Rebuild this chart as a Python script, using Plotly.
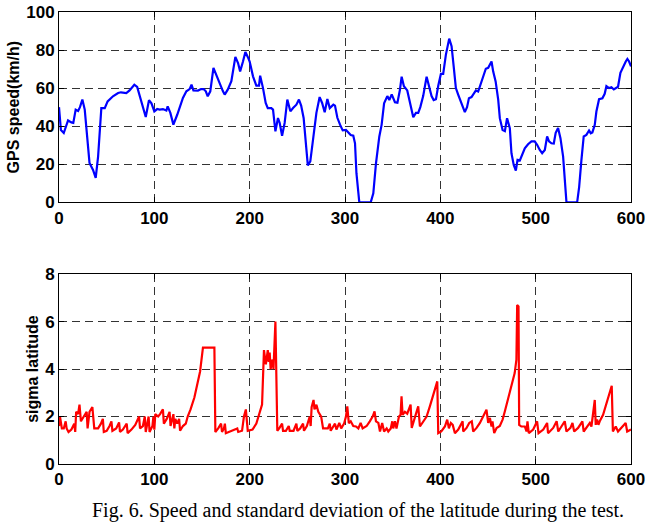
import plotly.graph_objects as go
from plotly.subplots import make_subplots

# GPS speed (km/h)
speed_t = [0, 2, 5, 8, 9.5, 13, 15, 17.5, 20, 22, 24.5, 27, 29, 32, 35.7, 38.5, 41, 44.4, 48, 51, 56.6, 62, 65, 70.6, 74, 79, 82, 85, 88, 91, 94.4, 97, 100, 103, 105.6, 109, 112.6, 114, 116.8, 120, 124, 127, 130, 133.6, 137, 139, 141, 145.8, 149, 151.7, 154, 156, 158.7, 162, 165, 168.5, 172, 173.8, 177, 180.8, 182.5, 185, 187.8, 190, 193, 195.5, 198, 200, 203.5, 207, 209.8, 211, 214, 216.8, 219, 222.7, 224.5, 227, 229.7, 231.5, 234, 236.7, 239.5, 242.7, 245.5, 249, 251.7, 254, 256.6, 258.7, 261, 263.6, 266.4, 270, 273.4, 276, 278.7, 281.5, 284, 287.8, 289.5, 292, 294.8, 297.6, 301, 303.5, 306, 308.7, 310.5, 312, 315, 327, 329.7, 332.5, 336, 338.4, 341, 344.4, 346.5, 349, 352.4, 355, 357.6, 359.4, 361.8, 365.3, 368, 371.6, 374.4, 376.8, 379, 382, 385.6, 388.4, 390.8, 393, 395.4, 397.8, 400.6, 403, 405.8, 409.3, 411.8, 414, 416.3, 418.8, 421, 424, 425.7, 428, 430, 432.7, 435, 437.3, 439.7, 442, 445, 447.7, 450.2, 453.7, 455.4, 458, 460.7, 462.4, 465.3, 467.7, 470, 472.9, 474.6, 477, 479.2, 481, 483.4, 486, 488.6, 492, 495.6, 499, 501.5, 504.3, 506.8, 509.6, 512, 514, 516.5, 519, 521, 523.5, 526, 528.8, 530.5, 532.3, 543.5, 545.6, 548, 550.4, 553.2, 556, 557.8, 559.5, 562, 563.7, 566.5, 570, 572.4, 574.2, 577, 579.5, 582, 584.7, 586.4, 588.9, 591.7, 594.5, 596.2, 598, 600]
speed_v = [50, 38, 36.4, 41.7, 43, 42, 41.7, 48.7, 48, 50, 54, 48.7, 36.4, 20.7, 17, 12.8, 24, 49.5, 49.5, 53, 55.7, 57.4, 57.8, 57.4, 58.8, 61.8, 60.6, 55.7, 50.4, 44.8, 53.6, 52, 47.8, 49, 48.7, 49, 48.2, 50.4, 47, 40.8, 46, 50.8, 54.8, 58.3, 59.5, 61.8, 58.8, 58.7, 59.5, 59.5, 58.3, 55.7, 58.3, 70.6, 67, 61.8, 58.3, 56.6, 59.2, 63.6, 68.8, 76.4, 73.2, 68.8, 74, 79, 76.4, 74, 66.2, 61.3, 61.3, 66.5, 60, 52.2, 49.5, 49.5, 48.7, 37.3, 44.3, 41.7, 35, 41.7, 54, 47.8, 49.5, 51.3, 54, 50.8, 44.3, 33, 19.4, 21.5, 33, 47, 55.3, 52.2, 47.3, 54.3, 49.5, 51.3, 50.8, 44.4, 40.8, 37.8, 38, 36.7, 35.4, 35, 31, 15.3, 0, 0, 4.7, 20.5, 34.6, 40.7, 52, 55.8, 53.7, 56.7, 52.6, 52.3, 59, 66, 61, 58.8, 53, 44.7, 47, 47, 50, 55.8, 66, 61.2, 55.8, 53.7, 54.2, 61.2, 67.5, 67.5, 77.5, 86, 82, 71.4, 60, 56.5, 53.5, 49.5, 47.4, 50, 54.7, 55.3, 56.8, 58.8, 58.2, 61.8, 67, 70.2, 70.7, 74, 68.8, 63.5, 53.9, 44.2, 38, 37.4, 44.2, 39, 25.8, 19.6, 16.7, 22.3, 22, 25, 28.4, 30.5, 32, 32, 30.2, 27.5, 25.8, 27.5, 34.6, 32, 31, 30.9, 36.5, 39, 33.7, 24, 10, 0, 0, 8, 22.3, 34.6, 35.4, 37.7, 36.3, 36.7, 40.7, 47.7, 54.2, 54.7, 57, 61, 60, 60.5, 59.3, 60, 60.7, 68, 71.4, 74, 75.3, 74, 71.4]

# sigma latitude
sig_t = [0, 1, 3, 5, 7, 8, 10, 13, 16, 17, 18, 20, 21.5, 23, 26, 29, 30, 32, 35, 37, 41, 44, 46, 47, 50, 53, 55, 56, 60, 63, 64, 67, 71, 72, 76, 80, 84, 85, 88, 90, 91, 93, 94, 95, 98, 99, 100, 101, 104, 106, 109, 110, 113, 116, 117, 120, 121, 122, 124, 126, 127, 130, 133, 135, 138, 142, 145, 148, 151, 163, 164, 167, 170, 171, 173, 174, 175, 178, 183, 187, 188, 192, 194, 196, 198, 203, 207, 211, 213, 215, 217, 219, 220, 221, 222, 224, 225, 227, 229, 231, 234, 235, 238, 241, 242, 246, 249, 250, 253, 256, 257, 260, 263, 264, 265, 267, 268, 270, 272, 275, 277, 282, 284, 285, 288, 289.5, 291, 294, 296, 299, 301, 302.4, 304, 306, 308.7, 311.5, 314, 316.4, 318.5, 322.7, 326, 329, 331, 332.5, 335, 336.7, 339, 341, 343.7, 345.4, 348, 349.6, 350.6, 352.4, 354, 356.6, 358.3, 359.3, 360.4, 362.8, 365.3, 368.8, 370, 373.3, 376.8, 378.6, 382, 385.6, 389, 392.6, 395.4, 396.8, 397.8, 401, 404.8, 407.2, 409, 411, 413, 415.3, 418.8, 423.4, 424, 427.5, 430.3, 433, 434.5, 438, 441.5, 445, 448.4, 450.2, 452, 453.7, 454.7, 456.5, 459, 462.4, 465.3, 467.7, 471, 474.6, 478, 479.8, 480.6, 482, 482.7, 485, 488.6, 490.4, 491.4, 492.8, 497.4, 501.5, 503, 508, 512, 513, 518.4, 522, 523.7, 527, 530.5, 532.3, 536.5, 538.6, 540.4, 544.5, 549, 550.4, 554, 556.8, 558.5, 561, 562, 563, 564.4, 565.8, 567.2, 570.7, 574.2, 577.7, 579.8, 581, 584, 586.4, 590, 594.4, 596, 600]
sig_v = [1.6, 2.0, 1.5, 1.5, 1.8, 1.5, 1.35, 1.45, 1.7, 1.35, 2.2, 2.1, 2.5, 1.8, 2.0, 2.2, 1.5, 2.2, 2.4, 1.5, 1.5, 1.7, 1.9, 1.35, 1.4, 1.6, 1.8, 1.4, 1.5, 1.75, 1.35, 1.45, 1.7, 1.3, 1.45, 1.65, 2.0, 1.5, 1.6, 2.0, 1.35, 1.7, 2.0, 1.35, 1.6, 2.0, 1.45, 2.1, 2.0, 2.1, 2.3, 1.7, 1.9, 2.2, 1.6, 2.1, 1.5, 1.9, 1.7, 1.9, 1.4, 1.6, 1.7, 2.0, 2.3, 2.8, 3.3, 3.9, 4.9, 4.9, 1.35, 1.5, 1.7, 1.35, 1.5, 1.7, 1.3, 1.35, 1.4, 1.5, 1.35, 1.4, 2.0, 2.3, 1.4, 1.45, 1.7, 2.2, 2.5, 4.8, 4.2, 4.8, 4.3, 4.7, 4.0, 4.4, 4.0, 6.0, 1.4, 1.5, 1.7, 1.4, 1.4, 1.6, 1.4, 1.4, 1.7, 1.4, 1.5, 1.7, 1.4, 1.6, 2.0, 1.6, 2.4, 2.7, 2.3, 2.5, 2.2, 2.0, 1.5, 1.5, 1.7, 1.4, 1.6, 1.7, 1.45, 1.73, 1.5, 1.7, 2.0, 2.43, 1.72, 1.8, 1.6, 1.58, 1.5, 1.73, 1.5, 1.6, 1.8, 2.0, 2.22, 1.8, 1.73, 1.37, 1.73, 1.37, 1.5, 1.37, 1.5, 1.8, 1.5, 1.8, 1.5, 2.0, 2.07, 2.85, 2.07, 2.2, 2.12, 2.5, 1.52, 2.0, 2.43, 1.58, 1.8, 2.0, 2.43, 2.92, 3.2, 3.48, 1.3, 1.37, 1.58, 1.87, 1.5, 1.73, 1.65, 1.3, 1.45, 1.8, 1.37, 1.52, 1.73, 1.8, 1.37, 1.52, 1.73, 2.0, 2.29, 1.73, 1.94, 1.58, 1.8, 1.3, 1.52, 1.6, 1.87, 2.22, 2.7, 3.27, 3.83, 4.4, 6.7, 6.64, 1.65, 1.58, 1.58, 1.37, 1.8, 1.3, 1.45, 1.8, 1.3, 1.45, 1.73, 1.3, 1.52, 1.8, 1.37, 1.58, 1.8, 1.37, 1.52, 1.73, 1.37, 1.52, 1.8, 1.37, 1.58, 1.73, 1.58, 2.36, 2.7, 1.65, 1.87, 1.65, 1.8, 2.07, 2.57, 3.06, 3.3, 1.37, 1.58, 1.37, 1.52, 1.73, 1.37, 1.45]

x_ticks = [0, 100, 200, 300, 400, 500, 600]
speed_ticks = [0, 20, 40, 60, 80, 100]
sig_ticks = [0, 2, 4, 6, 8]

fig = make_subplots(rows=2, cols=1, vertical_spacing=0.159)
fig.add_trace(go.Scatter(x=speed_t, y=speed_v, mode="lines",
                         line=dict(color="#0000ff", width=2.2)), row=1, col=1)
fig.add_trace(go.Scatter(x=sig_t, y=sig_v, mode="lines",
                         line=dict(color="#ff0000", width=2.2)), row=2, col=1)

tickfont = dict(family="Liberation Sans, Arial", size=17, color="black", weight="bold")
titlefont = dict(family="Liberation Sans, Arial", size=16, color="black", weight="bold")
axis_common = dict(showline=True, linecolor="black", linewidth=1, mirror="ticks",
                   ticks="inside", ticklen=5, tickcolor="black",
                   showgrid=True, gridcolor="#333333", gridwidth=1, griddash="8px,5px",
                   zeroline=False, tickfont=tickfont, automargin=False)

fig.update_xaxes(range=[0, 600], tickvals=x_ticks, ticklabelstandoff=0, **axis_common)
fig.update_yaxes(ticklabelstandoff=0, **axis_common)
fig.update_yaxes(range=[0, 100], tickvals=speed_ticks, domain=[0.579, 1.0], row=1, col=1,
                 title=dict(text="GPS speed(km/h)", font=titlefont, standoff=2))
fig.update_yaxes(range=[0, 8], tickvals=sig_ticks, domain=[0.0, 0.42], row=2, col=1,
                 title=dict(text="sigma latitude", font=titlefont, standoff=2))

fig.add_annotation(text="Fig. 6. Speed and standard deviation of the latitude during the test.",
                   xref="paper", yref="paper", x=0.522, y=-0.102, showarrow=False,
                   xanchor="center", yanchor="middle",
                   font=dict(family="Liberation Serif, Times New Roman", size=20, color="black"))

fig.update_layout(width=646, height=524, showlegend=False,
                  plot_bgcolor="white", paper_bgcolor="white",
                  margin=dict(l=59, r=15, t=12, b=60))

fig.write_html("out.html")
